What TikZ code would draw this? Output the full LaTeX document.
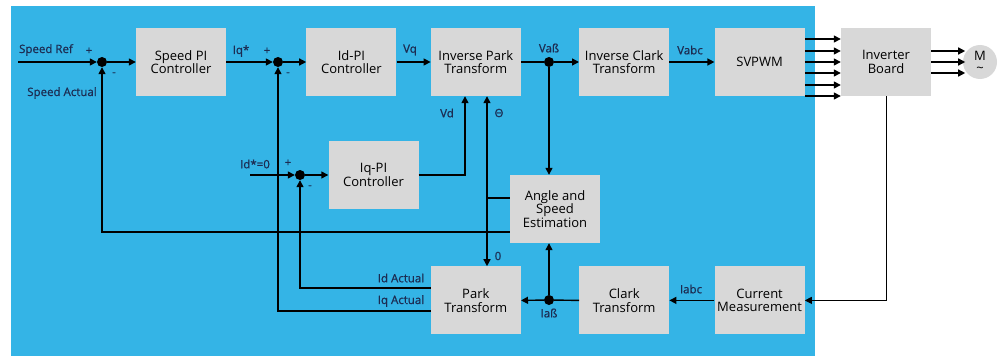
\documentclass[tikz,border=0pt]{standalone}
\usepackage{fontspec}
\setmainfont{Open Sans}
\newfontfamily\lblfont{Open Sans}[FakeBold=0.8]
\usetikzlibrary{positioning, arrows.meta}
\definecolor{panelblue}{RGB}{52, 180, 230}
\definecolor{boxgrey}{RGB}{216, 216, 216}
\definecolor{navy}{RGB}{28, 44, 82}

\begin{document}
\begin{tikzpicture}[x=1pt, y=-1pt,
      box/.style={fill=boxgrey, minimum width=90pt, minimum height=68pt, inner sep=0pt,
                  align=center, font=\fontsize{13}{13.5}\selectfont},
      sum/.style={circle, fill=black, minimum size=10pt, inner sep=0pt},
      lbl/.style={text=navy, font=\lblfont\fontsize{11.5}{12}\selectfont, inner sep=0pt},
      sgn/.style={text=navy, font=\lblfont\fontsize{11}{11}\selectfont, inner sep=0pt},
      wire/.style={line width=1.4pt, color=black},
      arr/.style={-{Triangle[length=7pt, width=7pt]}, line width=1.4pt, color=black}]
    \useasboundingbox (0,0) rectangle (1000,361);
    \fill[panelblue] (11,6) rectangle (815,356);
    % top row
    \node[box] (sp) at (181,62) {Speed PI\\Controller};
    \node[box, right=80pt of sp] (idpi) {Id-PI\\Controller};
    \node[box, right=34pt of idpi] (ipk) {Inverse Park\\Transform};
    \node[box, right=58pt of ipk] (icl) {Inverse Clark\\Transform};
    \node[box, right=45pt of icl] (sv) {SVPWM};
    \node[box, right=36pt of sv] (inv) {Inverter\\Board};
    \node[circle, fill=boxgrey, minimum size=34pt, inner sep=0pt, align=center,
          font=\fontsize{13}{12}\selectfont] (mot) at (980,62) {M\\\textasciitilde};
    % middle and bottom row
    \node[box] (iqpi) at (373.5,175) {Iq-PI\\Controller};
    \node[box] (ase) at (555,209) {Angle and\\Speed\\Estimation};
    \node[box, below=170pt of ipk] (pk) {Park\\Transform};
    \node[box, below=170pt of icl] (cl) {Clark\\Transform};
    \node[box, below=170pt of sv] (cm) {Current\\Measurement};
    % junctions
    \node[sum] (s1) at (102,62) {};
    \node[sum] (s2) at (278,62) {};
    \node[sum] (s3) at (300,175) {};
    \node[sum] (vab) at (549,62) {};
    \node[sum] (iab) at (549,300) {};
    \coordinate (spin) at (18,62);
    \coordinate (idin) at (250,175);
    \coordinate (sa) at (102,232);
    \coordinate (th) at (487,198);
    \coordinate (vdx) at (465,175);
    \coordinate (ida) at (300,288);
    \coordinate (iqa) at (278,311);
    % forward path
    \draw[arr] (spin) -- (s1);
    \draw[arr] (s1) -- (sp);
    \draw[arr] (sp) -- (s2);
    \draw[arr] (s2) -- (idpi);
    \draw[arr] (idpi) -- (ipk);
    \draw[wire] (ipk.east) -- (vab);
    \draw[arr] (vab) -- (icl);
    \draw[arr] (icl) -- (sv);
    \foreach \d in {23,11,0,-11,-23,-34}
      \draw[arr] ([yshift=\d pt]sv.east) -- ++(36,0);
    \foreach \d in {11,0,-11}
      \draw[arr] ([yshift=\d pt]inv.east) -- ++(34,0);
    \draw[arr] (idin) -- (s3);
    \draw[arr] (s3) -- (iqpi);
    \draw[arr] (iqpi.east) -| (vdx |- ipk.south);
    % feedback path
    \draw[-{Triangle[length=7pt, width=7pt]}, line width=1pt] (inv.south) |- (cm.east);
    \draw[arr] (cm) -- (cl);
    \draw[wire] (cl.west) -- (iab);
    \draw[arr] (iab) -- (pk.east);
    \draw[arr] (iab) -- (iab |- ase.south);
    \draw[arr] (vab) -- (vab |- ase.north);
    \draw[wire] (ase.west |- th) -- (th);
    \draw[arr] (th) -- (th |- ipk.south);
    \draw[arr] (th) -- (th |- pk.north);
    \draw[arr] (ase.west |- sa) -- (sa) -- (s1);
    \draw[arr] (pk.west |- ida) -- (ida) -- (s3);
    \draw[arr] (pk.west |- iqa) -- (iqa) -- (s2);
    % labels
    \node[lbl] (lsref) at (46,50) {Speed Ref};
    \node[lbl] (lsact) at (62,93) {Speed Actual};
    \node[lbl] (liqs) at (241,51) {Iq*};
    \node[lbl] (lvq) at (410,50) {Vq};
    \node[lbl] (lvab) at (549,48) {Vaß};
    \node[lbl] (lvabc) at (690,50) {Vabc};
    \node[lbl] (lvd) at (447,113) {Vd};
    \node[lbl] (lth) at (499,113) {Θ};
    \node[lbl] (lids) at (255,164) {Id*=0};
    \node[lbl] (lida) at (401,278) {Id Actual};
    \node[lbl] (liqa) at (401,301) {Iq Actual};
    \node[lbl] (lzero) at (498,256) {0};
    \node[lbl] (liab) at (549,313) {Iaß};
    \node[lbl] (liabc) at (691,289) {Iabc};
    \node[sgn] (p1) at (89,51) {+};
    \node[sgn] (m1) at (114,74) {-};
    \node[sgn] (p2) at (267,51) {+};
    \node[sgn] (m2) at (288,74) {-};
    \node[sgn] (p3) at (288,163) {+};
    \node[sgn] (m3) at (310,187) {-};
  \end{tikzpicture}
\end{document}
